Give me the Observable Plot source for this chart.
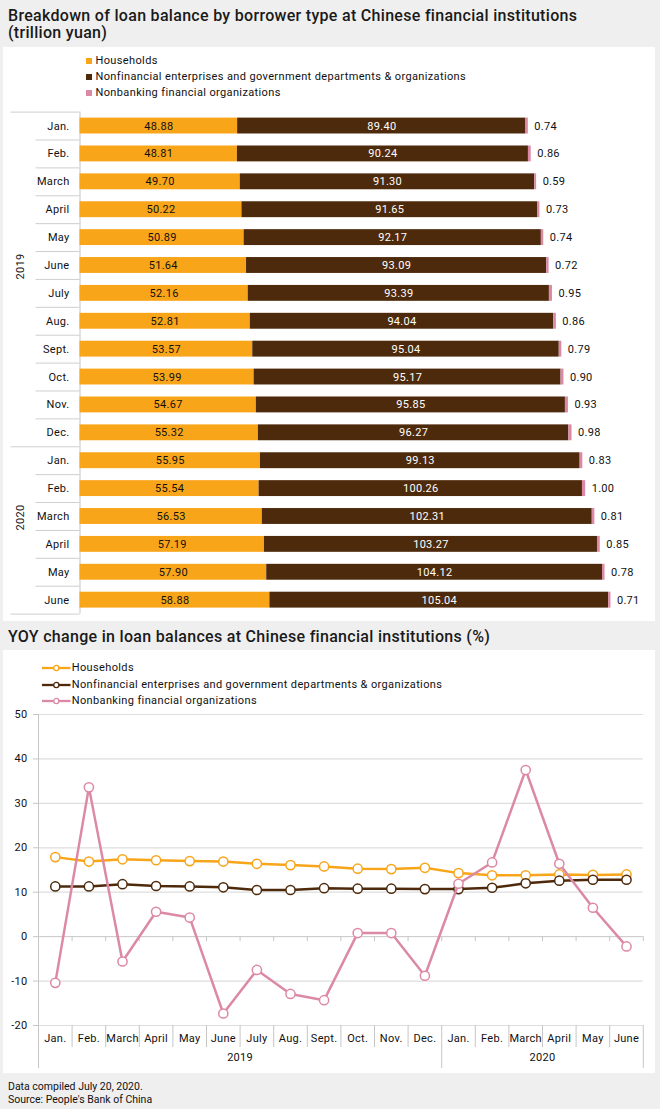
<!DOCTYPE html>
<html><head><meta charset="utf-8">
<script src="https://cdn.jsdelivr.net/npm/d3@7"></script>
<script src="https://cdn.jsdelivr.net/npm/@observablehq/plot@0.6"></script>
<style>
html,body{margin:0;padding:0;}
body{width:660px;height:1109px;background:#efefef;position:relative;overflow:hidden;font-family:Roboto,"Liberation Sans",sans-serif;color:#111;}
.title{position:absolute;left:8px;font-size:16px;font-weight:500;line-height:17px;letter-spacing:0.3px;color:#1a1a1a;white-space:nowrap;}
.panel{position:absolute;left:3px;width:652px;background:#fff;}
.leg{position:absolute;font-size:11px;line-height:16px;letter-spacing:0.37px;white-space:nowrap;color:#111;}
.sw{position:absolute;width:6px;height:6px;top:5px;left:0;}
.chart{position:absolute;left:0;}
.foot{position:absolute;left:8px;font-size:10.5px;line-height:13px;color:#111;}
</style></head>
<body>
<div class="title" style="top:6.7px">Breakdown of loan balance by borrower type at Chinese financial institutions<br>(trillion yuan)</div>
<div class="panel" style="top:47px;height:574px"></div>
<div class="title" style="top:627.5px">YOY change in loan balances at Chinese financial institutions (%)</div>
<div class="panel" style="top:650px;height:423px"></div>
<div id="legend1"></div>
<div id="chart1" class="chart" style="top:100px"></div>
<div id="legend2"></div>
<div id="chart2" class="chart" style="top:705px"></div>
<div class="foot" style="top:1080.4px">Data compiled July 20, 2020.<br>Source: People's Bank of China</div>
<script>
// ---------------- data ----------------
const months = ["Jan.","Feb.","March","April","May","June","July","Aug.","Sept.","Oct.","Nov.","Dec.","Jan.","Feb.","March","April","May","June"];
const years = [2019,2019,2019,2019,2019,2019,2019,2019,2019,2019,2019,2019,2020,2020,2020,2020,2020,2020];
const seriesNames = ["Households","Nonfinancial enterprises and government departments & organizations","Nonbanking financial organizations"];
const seriesColors = ["#f9a51a","#4e2a0c","#dc89a7"];

// Loan balances (trillion yuan)
const households = [48.88,48.81,49.70,50.22,50.89,51.64,52.16,52.81,53.57,53.99,54.67,55.32,55.95,55.54,56.53,57.19,57.90,58.88];
const nonfinancial = [89.40,90.24,91.30,91.65,92.17,93.09,93.39,94.04,95.04,95.17,95.85,96.27,99.13,100.26,102.31,103.27,104.12,105.04];
const nonbanking = [0.74,0.86,0.59,0.73,0.74,0.72,0.95,0.86,0.79,0.90,0.93,0.98,0.83,1.00,0.81,0.85,0.78,0.71];

// YOY change (%)
const householdsYoy = [17.9,16.9,17.4,17.2,17.0,16.9,16.4,16.1,15.8,15.3,15.2,15.5,14.3,13.8,13.8,14.0,13.9,14.0];
const nonfinancialYoy = [11.3,11.3,11.8,11.4,11.3,11.1,10.5,10.5,10.9,10.8,10.8,10.7,10.7,11.0,12.0,12.6,12.8,12.8];
const nonbankingYoy = [-10.4,33.6,-5.6,5.6,4.3,-17.3,-7.5,-12.9,-14.3,0.8,0.8,-8.8,11.9,16.7,37.5,16.4,6.5,-2.2];

const yoyTicks = [-20,-10,0,10,20,30,40,50];
const yearLabels = ["2019","2020"];

// ---------------- helpers ----------------
const FONT = 'Roboto,"Liberation Sans",sans-serif';
const keys = months.map((m,i)=>years[i]+" "+m);
const monthOf = k => k.split(" ")[1];
const yearStartIdx = years.map((y,i)=> i===0 || years[i-1]!==y ? i : -1).filter(i=>i>=0);
const yearGroups = yearLabels.map(y=>{const idx=years.map((v,i)=>String(v)===y?i:-1).filter(i=>i>=0); return {year:y, first:idx[0], last:idx[idx.length-1]};});

// ---------------- legends ----------------
const leg1 = document.getElementById("legend1");
const leg1Top = [53.3,69.3,85];
seriesNames.forEach((s,i)=>{
  const d = document.createElement("div");
  d.className="leg"; d.style.left="86px"; d.style.top=leg1Top[i]+"px"; d.style.paddingLeft="9.5px";
  d.innerHTML = `<span class="sw" style="background:${seriesColors[i]}"></span>`;
  d.appendChild(document.createTextNode(s));
  leg1.appendChild(d);
});
const leg2 = document.getElementById("legend2");
const leg2Top = [660.3,676.8,692.7];
seriesNames.forEach((s,i)=>{
  const d = document.createElement("div");
  d.className="leg"; d.style.left="41.7px"; d.style.top=leg2Top[i]+"px"; d.style.paddingLeft="30px";
  d.innerHTML = `<svg width="29" height="10" style="position:absolute;left:0;top:3px"><line x1="0" x2="28.5" y1="5" y2="5" stroke="${seriesColors[i]}" stroke-width="2.3"/><circle cx="14.3" cy="5" r="2.6" fill="#fff" stroke="${seriesColors[i]}" stroke-width="1.3"/></svg>`;
  d.appendChild(document.createTextNode(s));
  leg2.appendChild(d);
});

// ---------------- chart 1: stacked bars ----------------
{
  const W=660, H=520, mt=11.6, mb=6.4, ml=79.5, mr=32.25;
  const step = (H-mt-mb)/keys.length;
  const rows = keys.map((k,i)=>({key:k, h:households[i], n:nonfinancial[i], p:nonbanking[i]}));
  const segs = [];
  rows.forEach(r=>{
    segs.push({key:r.key, series:seriesNames[0], x1:0, x2:r.h});
    segs.push({key:r.key, series:seriesNames[1], x1:r.h, x2:r.h+r.n});
    segs.push({key:r.key, series:seriesNames[2], x1:r.h+r.n, x2:r.h+r.n+r.p});
  });
  const monthSeps = keys.filter((k,i)=>!yearStartIdx.includes(i));
  const yearSeps = keys.filter((k,i)=>yearStartIdx.includes(i));
  const sepColor = "#cfcfcf";
  const chart = Plot.plot({
    width:W, height:H, marginTop:mt, marginBottom:mb, marginLeft:ml, marginRight:mr,
    style:{fontFamily:FONT, fontSize:"11px", letterSpacing:"0.3px", color:"#111", background:"transparent", overflow:"visible"},
    x:{domain:[0,170], axis:null},
    y:{type:"band", domain:keys, padding:0, round:false, axis:null},
    color:{domain:seriesNames, range:seriesColors},
    marks:[
      Plot.ruleY(monthSeps, {y:d=>d, x1:0, x2:0, dy:-step/2, insetLeft:-44, stroke:sepColor}),
      Plot.ruleY(yearSeps, {y:d=>d, x1:0, x2:0, dy:-step/2, insetLeft:-69, stroke:sepColor}),
      Plot.ruleY([keys[keys.length-1]], {y:d=>d, x1:0, x2:0, dy:step/2, insetLeft:-69, stroke:sepColor}),
      Plot.ruleX([0], {stroke:"#c4c4c4"}),
      Plot.barX(segs, {x1:"x1", x2:"x2", y:"key", fill:"series", insetTop:6, insetBottom:6}),
      Plot.text(rows, {x:d=>d.h/2, y:"key", text:d=>d.h.toFixed(2), fill:"#111", fontSize:11}),
      Plot.text(rows, {x:d=>d.h+d.n/2, y:"key", text:d=>d.n.toFixed(2), fill:"#fff", fontSize:11}),
      Plot.text(rows, {x:d=>d.h+d.n+d.p, y:"key", text:d=>d.p.toFixed(2), textAnchor:"start", dx:6, fill:"#111", fontSize:11}),
      Plot.axisY({tickSize:0, tickPadding:10.5, tickFormat:monthOf, fontSize:11, fill:"#111", label:null}),
      Plot.text(yearGroups, {y:g=>keys[Math.floor((g.first+g.last)/2)], text:"year", frameAnchor:"left", dx:-60, dy:step/2, rotate:-90, fontSize:11, fill:"#111"})
    ]
  });
  document.getElementById("chart1").appendChild(chart);
}

// ---------------- chart 2: YOY lines ----------------
{
  const W=660, H=368, mt=9, mb=48, ml=38, mr=17.2;
  const step = (W-ml-mr)/keys.length;
  const yoy = [householdsYoy, nonfinancialYoy, nonbankingYoy];
  const yMin = d3.min(yoyTicks), yMax = d3.max(yoyTicks);
  const axisColor = "#c6c6c6";
  const gridColor = "#dedede";
  const yearBoundary = keys.filter((k,i)=>yearStartIdx.includes(i) && i>0);
  const catSeps = keys.filter((k,i)=>!yearStartIdx.includes(i));
  const seriesMarks = [];
  seriesNames.forEach((s,j)=>{
    const pts = keys.map((k,i)=>({key:k, v:yoy[j][i]}));
    seriesMarks.push(Plot.line(pts, {x:"key", y:"v", stroke:seriesColors[j], strokeWidth:2.5}));
    seriesMarks.push(Plot.dot(pts, {x:"key", y:"v", r:4.6, fill:"#fff", stroke:seriesColors[j], strokeWidth:1.5}));
  });
  const chart = Plot.plot({
    width:W, height:H, marginTop:mt, marginBottom:mb, marginLeft:ml, marginRight:mr,
    style:{fontFamily:FONT, fontSize:"11px", letterSpacing:"0.3px", color:"#111", background:"transparent", overflow:"visible"},
    x:{type:"band", domain:keys, padding:0, round:false, axis:null},
    y:{domain:[yMin,yMax], axis:null},
    marks:[
      Plot.ruleY(yoyTicks.filter(t=>t!==0), {stroke:gridColor, strokeWidth:1.2}),
      Plot.ruleY([0], {stroke:axisColor}),
      Plot.ruleX(keys, {x:d=>d, y1:0, y2:0, dx:-step/2, insetBottom:-5, stroke:axisColor}),
      Plot.ruleX([keys[keys.length-1]], {x:d=>d, y1:0, y2:0, dx:step/2, insetBottom:-5, stroke:axisColor}),
      Plot.ruleX([keys[0]], {x:d=>d, y1:yMax, y2:yMin, dx:-step/2, insetBottom:-43, stroke:axisColor}),
      Plot.ruleX(catSeps, {x:d=>d, y1:yMin, y2:yMin, dx:-step/2, insetBottom:-22, stroke:axisColor}),
      Plot.ruleX(yearBoundary, {x:d=>d, y1:yMin, y2:yMin, dx:-step/2, insetBottom:-43, stroke:axisColor}),
      Plot.ruleX([keys[keys.length-1]], {x:d=>d, y1:yMin, y2:yMin, dx:step/2, insetBottom:-43, stroke:axisColor}),
      Plot.axisY(yoyTicks, {tickSize:5, tickPadding:6, tickFormat:d=>String(d), fontSize:11, stroke:axisColor, fill:"#111", label:null}),
      Plot.axisX({tickSize:0, tickPadding:9, tickFormat:monthOf, fontSize:11, fill:"#111", label:null}),
      Plot.text(yearGroups, {x:g=>keys[Math.floor((g.first+g.last)/2)], text:"year", frameAnchor:"bottom", dx:step/2, dy:35, fontSize:11, fill:"#111"}),
      ...seriesMarks
    ]
  });
  document.getElementById("chart2").appendChild(chart);
}
</script>
</body></html>
